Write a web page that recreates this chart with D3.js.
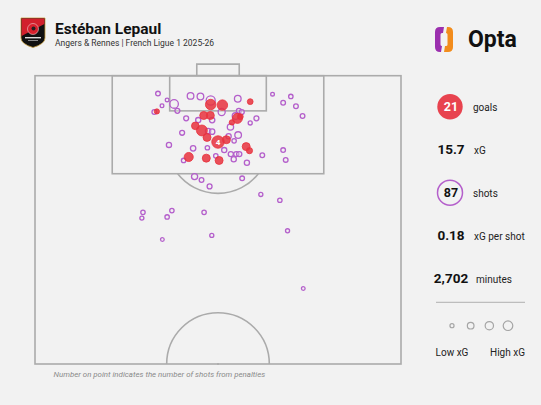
<!DOCTYPE html>
<html>
<head>
<meta charset="utf-8">
<script src="https://cdn.jsdelivr.net/npm/d3@7"></script>
<style>
  html, body { margin: 0; padding: 0; background: #f2f2f2; }
  svg { display: block; font-family: Roboto, "Noto Sans", sans-serif; }
</style>
</head>
<body>
<svg id="chart" width="541" height="405"></svg>
<script>
// ---------- DATA (Opta pitch coordinates: across 0-100, along 50-100 toward goal) ----------
const shotAcross = [33.6,36.1,38.0,34.7,32.6,33.3,38.9,42.5,45.2,48.0,48.0,51.2,51.0,55.4,58.8,64.9,69.9,67.8,71.3,73.1,
  55.7,56.5,46.1,47.9,41.3,44.6,48.4,54.8,55.3,53.8,56.1,60.5,58.8,43.8,45.6,47.3,48.4,53.4,40.2,47.0,
  55.5,52.9,50.0,52.3,54.4,36.6,43.2,47.1,51.7,57.7,58.6,67.8,42.0,40.6,46.8,50.3,49.4,53.5,55.0,55.8,
  54.3,57.9,62.1,68.5,43.6,45.5,47.7,56.6,61.7,66.9,29.5,29.2,36.1,37.4,46.2,48.3,34.8,69.0,73.3];
const shotAlong = [96.9,95.8,95.1,94.8,93.7,93.8,93.9,96.5,96.4,95.7,95.0,94.9,93.7,96.0,95.5,96.8,96.4,95.3,94.7,93.0,
  93.9,93.7,93.1,93.1,92.6,92.3,92.3,93.0,92.6,91.9,92.9,92.6,91.8,91.3,90.5,90.4,90.3,91.1,90.1,89.3,
  89.7,89.5,88.5,88.9,88.7,88.0,87.4,87.5,87.1,87.7,87.0,87.1,85.9,85.3,85.7,85.3,86.1,86.4,86.4,86.4,
  85.5,84.9,86.2,85.4,82.5,81.9,80.8,82.2,79.4,78.4,76.3,75.3,75.5,76.6,76.3,72.3,71.6,73.1,63.1];
const shotXG = [0.05,0.02,0.30,0.02,0.05,0.07,0.06,0.15,0.15,0.35,0.50,0.50,0.18,0.15,0.10,0.02,0.04,0.05,0.05,0.05,
  0.06,0.06,0.25,0.25,0.06,0.07,0.08,0.15,0.45,0.08,0.10,0.06,0.03,0.22,0.55,0.08,0.08,0.13,0.06,0.25,
  0.15,0.07,0.76,0.25,0.04,0.07,0.08,0.04,0.07,0.25,0.12,0.05,0.35,0.04,0.25,0.25,0.04,0.07,0.07,0.07,
  0.07,0.07,0.05,0.05,0.12,0.05,0.06,0.05,0.03,0.04,0.04,0.03,0.04,0.04,0.04,0.03,0.02,0.03,0.02];
const shotGoal = [0,0,0,0,0,1,0,0,0,0,1,1,0,0,1,0,0,0,0,0,
  0,0,1,1,0,0,0,0,1,1,1,0,0,1,1,0,0,0,0,1,
  0,0,1,1,0,0,0,0,0,1,1,0,1,0,1,1,0,0,0,0,
  0,0,0,0,0,0,0,0,0,0,0,0,0,0,0,0,0,0,0];
const shotPenalties = [0,0,0,0,0,0,0,0,0,0,0,0,0,0,0,0,0,0,0,0,
  0,0,0,0,0,0,0,0,0,0,0,0,0,0,0,0,0,0,0,0,
  0,0,4,0,0,0,0,0,0,0,0,0,0,0,0,0,0,0,0,0,
  0,0,0,0,0,0,0,0,0,0,0,0,0,0,0,0,0,0,0];

const statValues = ["21", "15.7", "87", "0.18", "2,702"];
const statLabels = ["goals", "xG", "shots", "xG per shot", "minutes"];
const legendXG = [0.03, 0.15, 0.28, 0.40];
const legendLabels = ["Low xG", "High xG"];

const titleText = "Estéban Lepaul";
const subtitleText = "Angers & Rennes | French Ligue 1 2025-26";
const footnoteText = "Number on point indicates the number of shots from penalties";

// ---------- SETUP ----------
const svg = d3.select("#chart");
svg.append("rect").attr("width", 541).attr("height", 405).attr("fill", "#f2f2f2");

const x = d3.scaleLinear().domain([0, 100]).range([35, 401]);
const y = d3.scaleLinear().domain([100, 50]).range([75.7, 364]);
const r = d3.scaleSqrt().domain([0, 1]).range([1, 7]);

const lineCol = "#ababab";
const pitch = svg.append("g").attr("fill", "none").attr("stroke", lineCol).attr("stroke-width", 1.6);

// outer half pitch
pitch.append("rect").attr("x", x(0)).attr("y", y(100)).attr("width", x(100) - x(0)).attr("height", y(50) - y(100));
// penalty box
pitch.append("rect").attr("x", x(21.1)).attr("y", y(100)).attr("width", x(78.9) - x(21.1)).attr("height", y(83) - y(100));
// six-yard box
pitch.append("rect").attr("x", x(36.8)).attr("y", y(100)).attr("width", x(63.2) - x(36.8)).attr("height", y(93.9) - y(100));
// goal
pitch.append("path").attr("d", `M${x(44.2)},${y(100)} V${y(102.0)} H${x(55.8)} V${y(100)}`);
// penalty arc
const arcR = y(100 - 8.9) - y(100);
const spotY = y(88.5), boxY = y(83);
const dy = boxY - spotY, dx = Math.sqrt(arcR * arcR - dy * dy);
pitch.append("path").attr("d", `M${x(50) - dx},${boxY} A${arcR},${arcR} 0 0 0 ${x(50) + dx},${boxY}`);
// centre circle (upper half)
pitch.append("path").attr("d", `M${x(50) - arcR},${y(50)} A${arcR},${arcR} 0 0 1 ${x(50) + arcR},${y(50)}`);
pitch.append("circle").attr("cx", x(50)).attr("cy", y(50)).attr("r", 1).attr("fill", lineCol).attr("stroke", "none");

// ---------- SHOTS ----------
const shots = shotAcross.map((a, i) => ({
  a, l: shotAlong[i], xg: shotXG[i], goal: shotGoal[i], pen: shotPenalties[i]
}));
const purple = "#b45fcb";
const red = "#e8323e";

svg.append("g").selectAll("circle")
  .data(shots.filter(d => !d.goal))
  .join("circle")
  .attr("cx", d => x(d.a)).attr("cy", d => y(d.l)).attr("r", d => r(d.xg))
  .attr("fill", "rgba(242,242,242,0.35)").attr("stroke", purple).attr("stroke-width", 1.3);

svg.append("g").selectAll("circle")
  .data(shots.filter(d => d.goal))
  .join("circle")
  .attr("cx", d => x(d.a)).attr("cy", d => y(d.l)).attr("r", d => r(d.xg))
  .attr("fill", red).attr("fill-opacity", 0.85).attr("stroke", red).attr("stroke-width", 0.8);

svg.append("g").selectAll("text")
  .data(shots.filter(d => d.pen > 0))
  .join("text")
  .attr("x", d => x(d.a)).attr("y", d => y(d.l) + 2.8)
  .attr("text-anchor", "middle").attr("font-size", 8).attr("font-weight", 700).attr("fill", "#fff")
  .text(d => d.pen);

// ---------- HEADER ----------
// crest (simplified)
const crest = svg.append("g");
crest.append("path")
  .attr("d", "M21,18 H45 V38 Q45,44 33,47.5 Q21,44 21,38 Z")
  .attr("fill", "#111").attr("stroke", "#c9a040").attr("stroke-width", 0.8);
crest.append("path")
  .attr("d", "M21.6,18.6 H44.4 V24 Q33,30 21.6,36 Z")
  .attr("fill", "#d2202c");
crest.append("circle").attr("cx", 33).attr("cy", 29).attr("r", 5.5).attr("fill", "#d8202c").attr("stroke", "#eee").attr("stroke-width", 0.5);
crest.append("circle").attr("cx", 33.5).attr("cy", 28.5).attr("r", 2).attr("fill", "#222");
crest.append("rect").attr("x", 25).attr("y", 37).attr("width", 16).attr("height", 1.4).attr("fill", "#ddd");
crest.append("rect").attr("x", 28).attr("y", 40).attr("width", 10).attr("height", 0.8).attr("fill", "#aaa");

svg.append("text").attr("x", 55).attr("y", 34).attr("font-size", 15.5).attr("font-weight", 700)
  .attr("fill", "#111").text(titleText);
svg.append("text").attr("x", 55).attr("y", 45.5).attr("font-size", 8.5).attr("fill", "#333").text(subtitleText);

// Opta logo
const logo = svg.append("g");
logo.append("path")
  .attr("d", "M444,27 H440 Q435,27 435,32 V47 Q435,52 440,52 H441 L442,46 Q440.5,46 440.5,44.5 V34.5 Q440.5,33 442,33 H443 Z")
  .attr("fill", "#9b2fae");
logo.append("path")
  .attr("d", "M444,52 H448 Q453,52 453,47 V32 Q453,27 448,27 H447 L446,33 Q447.5,33 447.5,34.5 V44.5 Q447.5,46 446,46 H445 Z")
  .attr("fill", "#f28c1c");
logo.append("text").attr("x", 468).attr("y", 46.5).attr("font-size", 23).attr("font-weight", 700)
  .attr("fill", "#111").text("Opta");

// ---------- STATS PANEL ----------
const statY = [110.5, 154, 197, 240, 283.3];
const valueX = 451;
const labelX = [473, 474, 473, 474, 476];
const panel = svg.append("g");

panel.append("circle").attr("cx", 450).attr("cy", 106.7).attr("r", 12.7).attr("fill", "#e8434f");
panel.append("circle").attr("cx", 450).attr("cy", 192.7).attr("r", 12.5).attr("fill", "none")
  .attr("stroke", purple).attr("stroke-width", 1.5);

panel.selectAll("text.val")
  .data(statValues)
  .join("text").attr("class", "val")
  .attr("x", valueX).attr("y", (d, i) => statY[i])
  .attr("text-anchor", "middle")
  .attr("font-size", (d, i) => (i === 0 || i === 2) ? 12.5 : 13.5)
  .attr("font-weight", 700)
  .attr("fill", (d, i) => i === 0 ? "#fff" : "#111")
  .text(d => d);

panel.selectAll("text.lab")
  .data(statLabels)
  .join("text").attr("class", "lab")
  .attr("x", (d, i) => labelX[i]).attr("y", (d, i) => statY[i])
  .attr("font-size", 10).attr("fill", "#222")
  .text(d => d);

panel.append("line").attr("x1", 436).attr("x2", 525).attr("y1", 302.3).attr("y2", 302.3)
  .attr("stroke", "#bdbdbd").attr("stroke-width", 1.2);

const legX = d3.scalePoint().domain(legendXG.map(String)).range([452, 508]);
panel.selectAll("circle.leg")
  .data(legendXG)
  .join("circle").attr("class", "leg")
  .attr("cx", d => legX(String(d))).attr("cy", 325.7).attr("r", d => r(d))
  .attr("fill", "none").attr("stroke", "#a5a5a5").attr("stroke-width", 1.2);

panel.selectAll("text.legl")
  .data(legendLabels)
  .join("text").attr("class", "legl")
  .attr("x", (d, i) => i === 0 ? 452 : 507.5).attr("y", 355.7)
  .attr("text-anchor", "middle").attr("font-size", 10).attr("fill", "#222")
  .text(d => d);

// ---------- FOOTNOTE ----------
svg.append("text").attr("x", 53.5).attr("y", 377).attr("font-size", 7.9).attr("font-style", "italic")
  .attr("fill", "#8a8a8a").text(footnoteText);
</script>
</body>
</html>
